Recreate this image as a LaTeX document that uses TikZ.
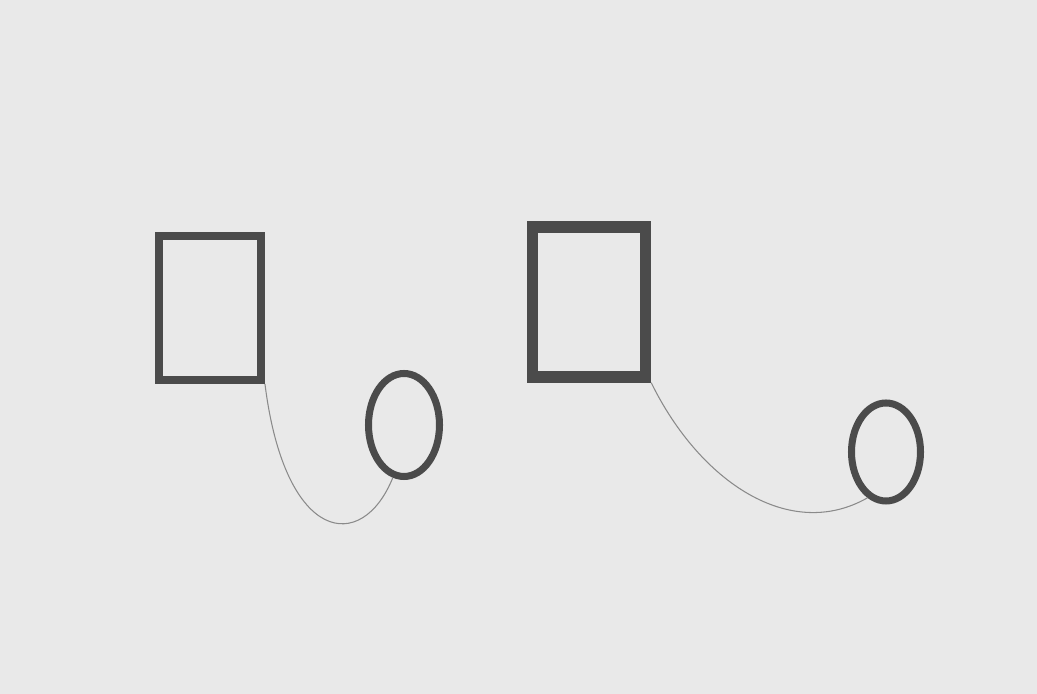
\documentclass[tikz,border=0pt]{standalone}
\usetikzlibrary{shapes.geometric}

\definecolor{paper}{HTML}{E9E9E9}
\definecolor{pencil}{HTML}{4B4B4B}
\definecolor{thread}{HTML}{8A8A8A}

\begin{document}
\begin{tikzpicture}[x=0.2mm,y=0.2mm,
    frame/.style={draw=pencil,rectangle,inner sep=0pt},
    ring/.style={draw=pencil,ellipse,inner sep=0pt,line width=4pt},
    string/.style={draw=thread,line width=0.6pt}]
    \fill[paper] (0,0) rectangle (1037,694);
    \useasboundingbox (0,0) rectangle (1037,694);

    % left pair
    \node[frame,line width=4.5pt,minimum width=20.4mm,minimum height=28.8mm] (boxA) at (210,386) {};
    \node[ring,minimum width=14.2mm,minimum height=20.6mm] (ringA) at (404,269) {};

    % right pair
    \node[frame,line width=6.5pt,minimum width=22.6mm,minimum height=30mm] (boxB) at (589,392) {};
    \node[ring,minimum width=13.8mm,minimum height=19.6mm] (ringB) at (886,242) {};

    \draw[string] (boxA.south east) .. controls (285,150) and (362,140) .. (ringA.258);
    \draw[string] (boxB.south east) .. controls (700,212) and (790,152) .. (ringB.248);
  \end{tikzpicture}
\end{document}
